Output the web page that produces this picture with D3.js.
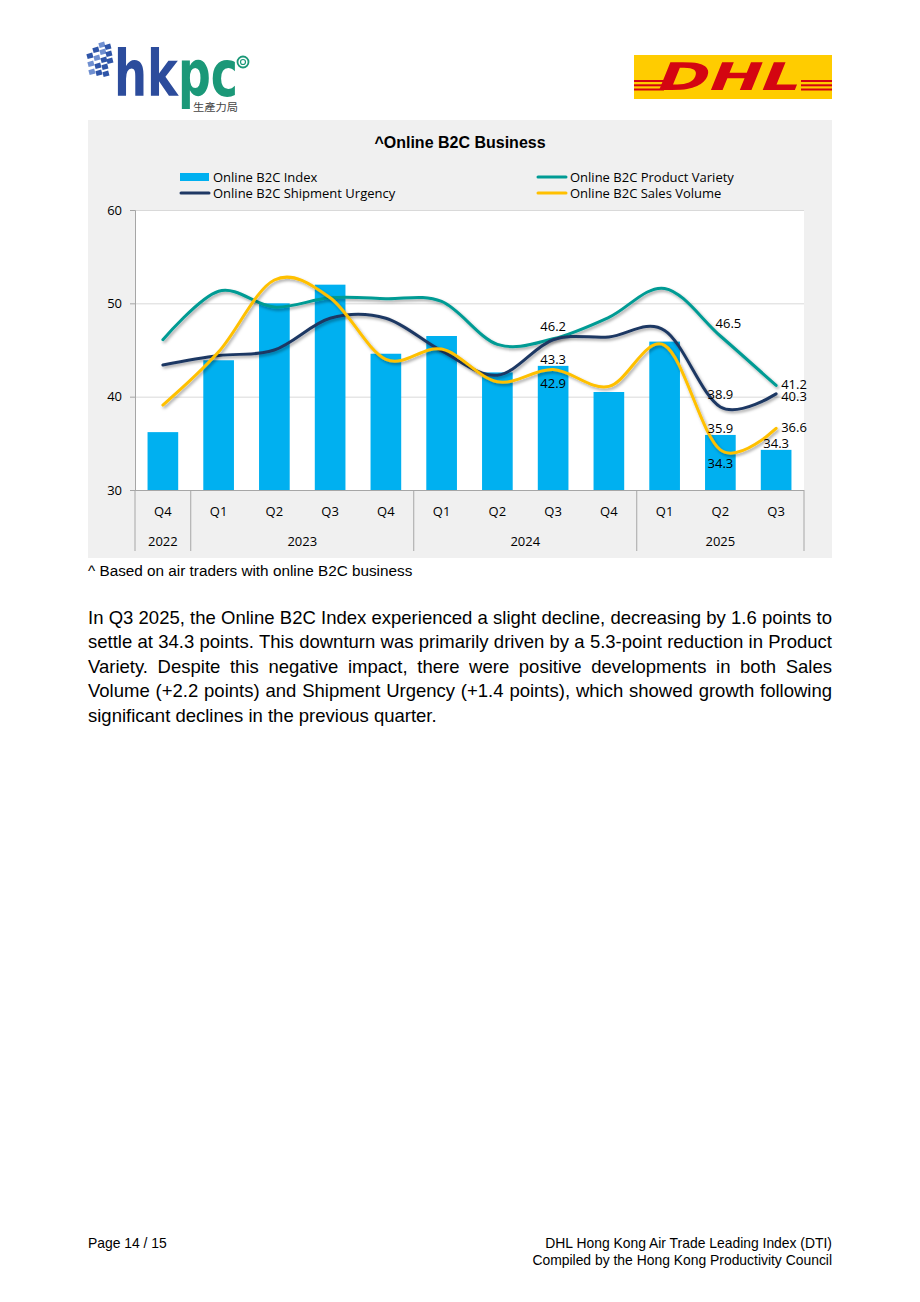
<!DOCTYPE html>
<html>
<head>
<meta charset="utf-8">
<script src="https://cdn.jsdelivr.net/npm/d3@7"></script>
<style>
  body { margin: 0; background: #fff; width: 920px; height: 1302px; position: relative; overflow: hidden; }
  .txt { position: absolute; font-family: "Liberation Sans", Arial, sans-serif; color: #000; }
  .para div { text-align: justify; text-align-last: justify; white-space: nowrap; height: 24.4px; line-height: 24.4px; }
  .para div.last { text-align-last: left; }
  svg text { font-family: "Open Sans", sans-serif; }
</style>
</head>
<body>
<svg id="page" width="920" height="1302" style="position:absolute;left:0;top:0"></svg>
<div class="txt" style="left:88px;top:562px;font-size:15.3px;">^ Based on air traders with online B2C business</div>
<div class="txt para" id="para" style="left:88px;top:606px;width:744px;font-size:18.5px;"></div>
<div class="txt" style="left:88px;top:1235px;font-size:13.9px;">Page 14 / 15</div>
<div class="txt" style="right:88px;top:1235px;font-size:13.9px;text-align:right;line-height:16.5px;">DHL Hong Kong Air Trade Leading Index (DTI)<br>Compiled by the Hong Kong Productivity Council</div>
<script>
// quarters and years on the x axis
const quarters = ["Q4", "Q1", "Q2", "Q3", "Q4", "Q1", "Q2", "Q3", "Q4", "Q1", "Q2", "Q3"];
const years = ["2022", "2023", "2024", "2025"];
const yearSpans = [1, 4, 4, 3];

// series values
const b2cIndex = [36.2, 43.9, 50.0, 52.0, 44.6, 46.5, 42.6, 43.3, 40.5, 45.9, 35.9, 34.3];
const productVariety = [46.1, 51.3, 49.6, 50.6, 50.5, 50.2, 45.6, 46.2, 48.5, 51.6, 46.5, 41.2];
const shipmentUrgency = [43.4, 44.4, 45.0, 48.4, 48.4, 44.9, 42.3, 46.1, 46.4, 47.1, 38.9, 40.3];
const salesVolume = [39.1, 44.8, 52.5, 50.6, 44.0, 45.1, 41.6, 42.9, 41.1, 45.5, 34.3, 36.6];

const yTicks = [30, 40, 50, 60];

const paragraph = [
  "In Q3 2025, the Online B2C Index experienced a slight decline, decreasing by 1.6 points to",
  "settle at 34.3 points. This downturn was primarily driven by a 5.3-point reduction in Product",
  "Variety. Despite this negative impact, there were positive developments in both Sales",
  "Volume (+2.2 points) and Shipment Urgency (+1.4 points), which showed growth following",
  "significant declines in the previous quarter."
];

d3.select("#para").selectAll("div")
  .data(paragraph)
  .enter().append("div")
  .classed("last", (d, i) => i === paragraph.length - 1)
  .text(d => d);

const svg = d3.select("#page");

// ---- logos ----
// hkpc
const hk = svg.append("g");
const sq = [[103,45],[109,47],[97,50],[104,52],[110,54],[91,56],[98,58],[105,60],[111,61],[92,64],[99,66],[106,67],[93,72],[100,73],[107,74]];
hk.selectAll("rect.sq").data(sq).enter().append("rect")
  .attr("x", d => d[0] - 4).attr("y", d => d[1] - 3)
  .attr("width", 6).attr("height", 5)
  .attr("transform", d => `rotate(-15 ${d[0]} ${d[1]})`)
  .attr("fill", (d, i) => i % 3 === 0 ? "#6f8fd0" : "#2f55a8");
hk.append("text").attr("x", 114).attr("y", 96)
  .attr("textLength", 64).attr("lengthAdjust", "spacingAndGlyphs")
  .style("font-family", "'DejaVu Sans', sans-serif").style("font-weight", "bold")
  .style("font-size", "64px").attr("fill", "#2c4c9c").text("hk");
hk.append("text").attr("x", 178).attr("y", 96)
  .attr("textLength", 60).attr("lengthAdjust", "spacingAndGlyphs")
  .style("font-family", "'DejaVu Sans', sans-serif").style("font-weight", "bold")
  .style("font-size", "64px").attr("fill", "#1b9878").text("pc");
hk.append("text").attr("x", 193).attr("y", 111)
  .attr("textLength", 45).attr("lengthAdjust", "spacingAndGlyphs")
  .style("font-family", "'Noto Sans CJK TC', sans-serif")
  .style("font-size", "10.5px").attr("fill", "#444").text("生產力局");
hk.append("circle").attr("cx", 243).attr("cy", 62).attr("r", 5.5)
  .attr("fill", "none").attr("stroke", "#1b9878").attr("stroke-width", 1.8);
hk.append("circle").attr("cx", 243).attr("cy", 62).attr("r", 2.5)
  .attr("fill", "none").attr("stroke", "#1b9878").attr("stroke-width", 1.2);

// dhl
const dhl = svg.append("g");
dhl.append("rect").attr("x", 634).attr("y", 55).attr("width", 198).attr("height", 44).attr("fill", "#ffcc00");
[81, 85.3, 89.5].forEach(yy => {
  dhl.append("rect").attr("x", 634).attr("y", yy - 1).attr("width", 30).attr("height", 2).attr("fill", "#d40511");
  dhl.append("rect").attr("x", 801).attr("y", yy - 1).attr("width", 31).attr("height", 2).attr("fill", "#d40511");
});
dhl.append("text").attr("x", 690).attr("y", 90)
  .attr("transform", "skewX(-22) translate(0,0)")
  .attr("textLength", 143).attr("lengthAdjust", "spacingAndGlyphs")
  .style("font-family", "'DejaVu Sans', sans-serif").style("font-weight", "bold")
  .style("font-size", "38px").attr("fill", "#d40511").text("DHL");

// ---- chart ----
svg.append("rect").attr("x", 88).attr("y", 120).attr("width", 744).attr("height", 438).attr("fill", "#f0f0f0");

const margin = { left: 135, top: 210, right: 804, bottom: 490 };
const width = margin.right - margin.left;
const height = margin.bottom - margin.top;

const x = d3.scaleBand()
  .domain(d3.range(quarters.length))
  .range([margin.left, margin.right])
  .paddingInner(0.45)
  .paddingOuter(0.225);

const y = d3.scaleLinear().domain([30, 60]).range([margin.bottom, margin.top]);

svg.append("rect").attr("x", margin.left).attr("y", margin.top)
  .attr("width", width).attr("height", height).attr("fill", "#fff");

// drop shadow like Excel
const defs = svg.append("defs");
const f = defs.append("filter").attr("id", "shadow").attr("x", "-10%").attr("y", "-20%").attr("width", "120%").attr("height", "140%");
f.append("feDropShadow").attr("dx", 1.5).attr("dy", 2).attr("stdDeviation", 1.4)
  .attr("flood-color", "#000").attr("flood-opacity", 0.35);

// gridlines
svg.append("g")
  .attr("transform", `translate(${margin.left},0)`)
  .call(d3.axisLeft(y).tickValues(yTicks.slice(1)).tickSize(-width).tickFormat(""))
  .call(g => g.select(".domain").remove())
  .call(g => g.selectAll("line").attr("stroke", "#d9d9d9").attr("stroke-width", 1));

// y axis
svg.append("g")
  .attr("transform", `translate(${margin.left},0)`)
  .call(d3.axisLeft(y).tickValues(yTicks).tickSize(5).tickPadding(8))
  .call(g => g.select(".domain").attr("stroke", "#a6a6a6"))
  .call(g => g.selectAll("line").attr("stroke", "#a6a6a6"))
  .call(g => g.selectAll("text").style("font-size", "13px").attr("fill", "#000")
    .style("font-family", "'Open Sans', sans-serif"));

// bars
svg.append("g").selectAll("rect")
  .data(b2cIndex)
  .enter().append("rect")
  .attr("x", (d, i) => x(i))
  .attr("y", d => y(d))
  .attr("width", x.bandwidth())
  .attr("height", d => y(30) - y(d))
  .attr("fill", "#00b0f0");

// x axis baseline and quarter labels
svg.append("g")
  .attr("transform", `translate(0,${margin.bottom})`)
  .call(d3.axisBottom(x).tickSize(0).tickPadding(17).tickFormat(i => quarters[i]))
  .call(g => g.select(".domain").attr("stroke", "#a6a6a6").attr("d", `M${margin.left},0.5H${margin.right}`))
  .call(g => g.selectAll("text").style("font-size", "13px").attr("fill", "#000")
    .style("font-family", "'Open Sans', sans-serif"));

// year group dividers and labels
const boundary = k => k >= quarters.length ? margin.right : x(k) - x.step() * x.paddingInner() / 2;
const starts = [0];
yearSpans.forEach((s, i) => starts.push(starts[i] + s));

svg.append("g").selectAll("line")
  .data(starts)
  .enter().append("line")
  .attr("x1", d => boundary(d)).attr("x2", d => boundary(d))
  .attr("y1", margin.bottom).attr("y2", 551)
  .attr("stroke", "#a6a6a6").attr("stroke-width", 1);

svg.append("g").selectAll("text")
  .data(years)
  .enter().append("text")
  .attr("x", (d, i) => (boundary(starts[i]) + boundary(starts[i + 1])) / 2)
  .attr("y", 546)
  .attr("text-anchor", "middle")
  .style("font-size", "13px")
  .text(d => d);

// smoothed lines
const line = d3.line()
  .x((d, i) => x(i) + x.bandwidth() / 2)
  .y(d => y(d))
  .curve(d3.curveCardinal.tension(0));

const lineSeries = [
  { name: "Online B2C Product Variety", values: productVariety, color: "#009b94" },
  { name: "Online B2C Shipment Urgency", values: shipmentUrgency, color: "#1f3864" },
  { name: "Online B2C Sales Volume", values: salesVolume, color: "#ffc000" }
];

svg.append("g").selectAll("path")
  .data(lineSeries)
  .enter().append("path")
  .attr("d", d => line(d.values))
  .attr("fill", "none")
  .attr("stroke", d => d.color)
  .attr("stroke-width", 3)
  .attr("stroke-linecap", "round")
  .attr("filter", "url(#shadow)");

// data labels
const labels = [
  { values: productVariety, i: 7, pos: "above" },
  { values: b2cIndex, i: 7, pos: "bar" },
  { values: salesVolume, i: 7, pos: "below" },
  { values: productVariety, i: 10, pos: "aboveRight" },
  { values: shipmentUrgency, i: 10, pos: "above" },
  { values: b2cIndex, i: 10, pos: "bar" },
  { values: salesVolume, i: 10, pos: "below" },
  { values: productVariety, i: 11, pos: "right" },
  { values: shipmentUrgency, i: 11, pos: "rightLow" },
  { values: salesVolume, i: 11, pos: "right" },
  { values: b2cIndex, i: 11, pos: "bar" }
];

svg.append("g").selectAll("text")
  .data(labels)
  .enter().append("text")
  .attr("x", d => {
    const cx = x(d.i) + x.bandwidth() / 2;
    if (d.pos === "right" || d.pos === "rightLow") return cx + 5;
    if (d.pos === "aboveRight") return cx + 8;
    return cx;
  })
  .attr("y", d => {
    const cy = y(d.values[d.i]);
    if (d.pos === "above" || d.pos === "aboveRight") return cy - 8;
    if (d.pos === "bar") return cy - 2;
    if (d.pos === "below") return cy + 18;
    if (d.pos === "rightLow") return cy + 7;
    return cy + 4;
  })
  .attr("text-anchor", d => (d.pos === "right" || d.pos === "rightLow") ? "start" : "middle")
  .style("font-size", "13px")
  .attr("fill", "#000")
  .text(d => d.values[d.i].toFixed(1));

// title
svg.append("text")
  .attr("x", 460).attr("y", 148)
  .attr("text-anchor", "middle")
  .style("font-family", "'Liberation Sans', Arial, sans-serif")
  .style("font-weight", "bold")
  .style("font-size", "16px")
  .text("^Online B2C Business");

// legend
const legendItems = [
  { name: "Online B2C Index", color: "#00b0f0", type: "bar", lx: 180, ly: 177 },
  { name: "Online B2C Product Variety", color: "#009b94", type: "line", lx: 537, ly: 177 },
  { name: "Online B2C Shipment Urgency", color: "#1f3864", type: "line", lx: 180, ly: 193 },
  { name: "Online B2C Sales Volume", color: "#ffc000", type: "line", lx: 537, ly: 193 }
];

const lg = svg.append("g").selectAll("g")
  .data(legendItems)
  .enter().append("g")
  .attr("transform", d => `translate(${d.lx},${d.ly})`);

lg.filter(d => d.type === "bar").append("rect")
  .attr("x", 0).attr("y", -4).attr("width", 29).attr("height", 8).attr("fill", d => d.color);
lg.filter(d => d.type === "line").append("line")
  .attr("x1", 1).attr("x2", 29).attr("y1", 0).attr("y2", 0)
  .attr("stroke", d => d.color).attr("stroke-width", 3).attr("stroke-linecap", "round");
lg.append("text")
  .attr("x", 33).attr("y", 4.5)
  .style("font-size", "13px")
  .text(d => d.name);
</script>
</body>
</html>
